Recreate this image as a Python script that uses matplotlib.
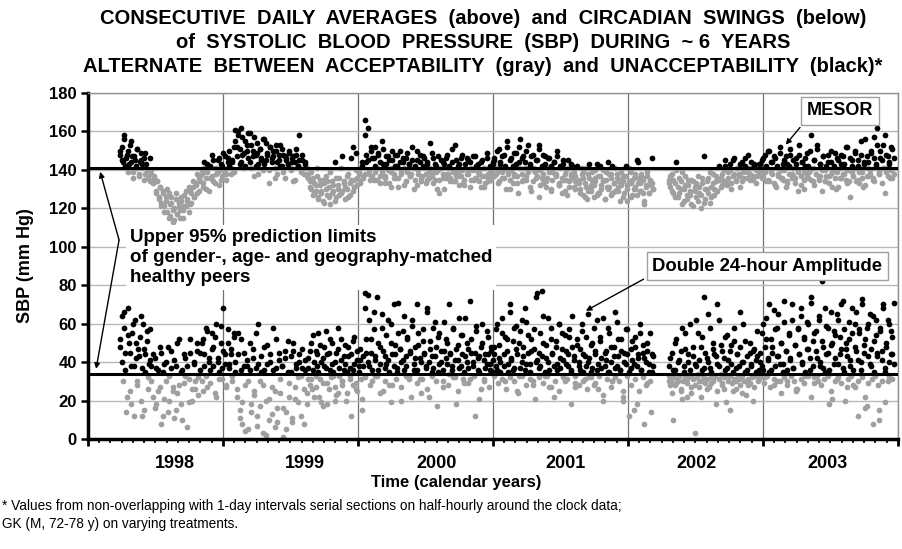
import numpy as np
import matplotlib
matplotlib.use("Agg")
from matplotlib import pyplot as plt

# observation blocks (decimal years); each block holds interleaved runs of daily values
blocks = [(1998.06, 1998.29), (1998.29, 1998.65), (1998.65, 1998.91),
          (1998.91, 1999.45), (1999.45, 1999.87), (1999.87, 2000.83),
          (2000.83, 2002.02), (2002.12, 2002.80), (2002.80, 2003.80)]

# MESOR (daily average SBP, mm Hg)
mesor_1 = [148, 152, 144, 158, 146, 141, 150, 143, 155, 147, 139, 145, 142, 151,
           137, 144, 149, 141, 146, 138, 143, 136, 140, 134]
mesor_1b = [150, 145, 156, 142, 148, 139, 153, 144, 136, 147, 141, 151, 138, 145,
            143, 135, 149, 140, 137, 146]
mesor_2 = [138, 133, 136, 129, 134, 126, 131, 123, 129, 121, 126, 118, 128, 116,
           123, 119, 114, 125, 117, 121, 115, 124, 119, 127, 121, 125, 118, 129,
           123, 131, 126, 133, 128, 136]
mesor_2b = [140, 133, 137, 128, 134, 125, 131, 121, 128, 118, 124, 130, 115, 122,
            126, 113, 120, 128, 117, 123, 119, 126, 115, 121, 129, 124, 131, 122,
            128, 134, 126, 132, 138, 129]
mesor_3 = [134, 138, 131, 141, 136, 143, 129, 142, 137, 145, 133, 141, 139, 146,
           135, 142, 140, 147, 138, 144, 150, 141, 145, 139]
mesor_3b = [137, 140, 133, 144, 130, 139, 142, 136, 148, 134, 141, 138, 145, 132,
            143, 137, 149, 140, 135, 146, 142, 138, 144, 152]
mesor_4 = [161, 152, 158, 143, 162, 148, 141, 155, 150, 159, 144, 153, 147, 157,
           142, 149, 138, 151, 145, 156, 143, 154, 148, 140, 152, 146, 150, 136,
           153, 144, 148, 142, 151, 139, 147, 145, 143, 150, 141, 146, 134, 144,
           148, 142, 158, 140, 145, 138, 143, 141]
mesor_4b = [155, 147, 160, 151, 144, 157, 149, 142, 153, 146, 159, 141, 150, 137,
            148, 154, 143, 151, 146, 140, 156, 145, 149, 133, 152, 144, 147, 141,
            150, 138, 145, 153, 142, 148, 136, 146, 143, 149, 140, 144, 147, 135,
            151, 142, 145, 139, 148, 141, 144, 137]
mesor_5 = [138, 134, 130, 136, 128, 132, 141, 126, 135, 129, 124, 133, 137, 127,
           131, 122, 134, 129, 144, 126, 132, 136, 128, 147, 133, 125, 130, 138,
           127, 135, 152, 131, 149, 136, 139, 133, 144, 137]
mesor_5b = [136, 131, 139, 127, 133, 129, 137, 125, 132, 128, 135, 123, 130, 134,
            126, 139, 128, 132, 124, 136, 130, 127, 141, 129, 134, 131, 137, 126,
            133, 146, 129, 135, 140, 132, 138, 134, 142, 136]
mesor_6 = [166, 144, 162, 138, 150, 146, 135, 152, 141, 148, 137, 155, 143, 133,
           147, 140, 145, 139, 150, 136, 142, 148, 131, 144, 138, 146, 141, 134,
           149, 143, 137, 145, 130, 142, 150, 138, 144, 136, 147, 141, 133, 143,
           139, 154, 137, 146, 135, 142, 140, 128, 145, 138, 143, 136, 148, 141,
           134, 144, 139, 153, 137, 142, 132, 146, 140, 135, 143, 138, 145, 131,
           141, 147, 136, 142, 139, 134, 144, 137, 141, 133, 146, 138, 140, 135,
           143]
mesor_6b = [158, 148, 145, 140, 152, 137, 146, 142, 135, 149, 144, 139, 151, 136,
            143, 147, 133, 141, 145, 138, 148, 142, 136, 150, 140, 144, 132, 146,
            139, 143, 137, 152, 141, 135, 145, 140, 148, 134, 142, 146, 138, 144,
            136, 141, 149, 133, 143, 139, 147, 135, 141, 144, 130, 146, 138, 142,
            136, 151, 140, 134, 145, 139, 143, 137, 148, 132, 141, 146, 138, 144,
            135, 140, 147, 136, 143, 139, 131, 145, 141, 137, 149, 134, 142, 138,
            144]
mesor_6c = [138, 135, 139, 133, 137, 131, 136, 139, 134, 138, 132, 137, 135, 139,
            130, 136, 138, 134, 137, 133, 139, 135, 138, 131, 136]
mesor_7 = [145, 138, 150, 134, 143, 147, 136, 141, 152, 139, 130, 146, 142, 137,
           149, 133, 144, 156, 138, 147, 141, 135, 153, 143, 129, 148, 140, 136,
           145, 151, 132, 142, 138, 147, 134, 141, 146, 130, 139, 144, 137, 150,
           133, 142, 128, 145, 138, 135, 141, 131, 143, 136, 139, 134, 142,
           133, 128, 141, 136, 126, 131, 138, 143, 129, 135, 132, 140, 127, 137,
           142, 130, 134, 125, 139, 144, 131, 136, 128, 133, 141, 138, 129, 135,
           132, 126, 137, 142, 130, 134, 139, 127, 136, 131, 145, 133, 129, 138,
           135, 124, 132, 137, 128, 134, 146, 130]
mesor_7b = [146, 141, 139, 151, 144, 136, 148, 142, 155, 138, 145, 140, 133, 149,
            143, 137, 152, 141, 146, 135, 144, 150, 139, 142, 147, 134, 141, 145,
            137, 153, 140, 136, 148, 143, 131, 146, 139, 142, 135, 144, 138, 147,
            132, 141, 136, 143, 129, 140, 145, 134, 138, 142, 131, 137, 133,
            135, 130, 138, 127, 133, 141, 129, 136, 131, 139, 126, 134, 143, 128,
            137, 132, 140, 125, 135, 130, 138, 127, 142, 133, 129, 136, 131, 124,
            139, 134, 128, 137, 132, 141, 126, 135, 130, 138, 127, 144, 133, 129,
            136, 122, 131, 140, 128, 135, 133, 130]
mesor_7c = [137, 133, 139, 130, 135, 138, 128, 134, 137, 131, 139, 126, 133, 136,
            129, 138, 132, 135, 127, 137, 130, 134, 139, 125, 132, 136, 128, 135,
            131, 138, 129, 134, 137, 124, 133, 130, 136, 128, 139, 132]
mesor_8 = [135, 131, 138, 128, 133, 144, 126, 136, 130, 139, 124, 132, 127, 135,
           129, 122, 134, 131, 126, 137, 128, 120, 133, 147, 125, 130, 136, 123,
           131, 138, 127, 134, 129, 142, 136, 132, 140, 145, 133, 139, 143, 130,
           137, 146, 134, 141, 138, 131, 144, 136, 142, 139, 148, 135, 141, 137,
           143, 133, 140, 138]
mesor_8b = [133, 137, 129, 135, 126, 140, 131, 128, 134, 122, 130, 137, 125, 132,
            127, 135, 121, 129, 133, 124, 131, 127, 136, 123, 130, 134, 128, 139,
            126, 133, 130, 137, 129, 135, 131, 138, 134, 142, 132, 136, 140, 133,
            145, 138, 135, 141, 137, 143, 134, 139, 146, 136, 141, 138, 144, 135,
            142, 140, 137, 143]
mesor_9 = [143, 136, 146, 139, 141, 150, 134, 144, 138, 147, 132, 142, 137, 152,
           140, 135, 145, 131, 143, 138, 148, 136, 141, 133, 146, 139, 153, 137,
           144, 130, 142, 149, 136, 140, 158, 134, 145, 138, 151, 135, 143, 129,
           147, 140, 137, 144, 133, 150, 139, 142, 136, 146, 131, 141, 148, 138,
           143, 135, 152, 140, 126, 145, 137, 149, 134, 142, 139, 155, 136, 144,
           132, 147, 141, 138, 150, 135, 157, 143, 162, 139, 146, 133, 153, 141,
           148, 137, 144, 140, 151, 138]
mesor_9b = [140, 145, 137, 148, 142, 135, 150, 139, 144, 133, 146, 141, 138, 149,
            136, 143, 140, 147, 134, 142, 151, 138, 145, 136, 143, 140, 148, 132,
            144, 139, 146, 137, 142, 150, 135, 141, 145, 138, 153, 136, 143, 140,
            147, 134, 142, 148, 137, 144, 131, 141, 149, 139, 145, 136, 143, 147,
            138, 152, 140, 134, 146, 142, 137, 150, 141, 145, 133, 148, 139, 143,
            156, 137, 144, 140, 149, 136, 146, 142, 153, 138, 150, 145, 141, 158,
            139, 147, 143, 152, 136, 146]
mesor_9c = [138, 134, 139, 131, 136, 133, 137, 129, 135, 139, 132, 137, 134, 138,
            130, 136, 133, 139, 135, 131, 137, 134, 138, 128, 136]

# double 24-hour amplitude (mm Hg)
amp_1 = [52, 64, 30, 58, 45, 14, 68, 50, 25, 38, 55, 12, 62, 42, 28, 47, 53, 20,
         37, 60, 15, 44, 51, 32, 39, 57]
amp_1b = [48, 40, 66, 36, 22, 54, 45, 18, 60, 38, 50, 30, 43, 64, 12, 47, 35, 56,
          26, 41]
amp_2 = [38, 22, 42, 18, 36, 27, 45, 12, 39, 30, 48, 20, 37, 25, 41, 15, 50, 28,
         35, 10, 44, 33, 38, 19, 52, 26, 40, 30, 46, 23]
amp_2b = [30, 44, 16, 37, 25, 48, 8, 35, 21, 40, 14, 33, 46, 27, 11, 38, 24, 52,
          18, 36, 29, 42, 6, 31, 45, 20, 39, 26, 50, 32]
amp_3 = [45, 30, 52, 38, 58, 27, 42, 36, 55, 48, 24, 60, 40, 31, 50, 37, 68, 44,
         28, 57, 39, 47, 33, 53]
amp_3b = [36, 50, 25, 44, 33, 56, 40, 29, 47, 38, 53, 22, 42, 35, 59, 31, 46, 39,
          27, 50, 37, 44, 30, 55]
amp_4 = [40, 22, 55, 15, 36, 8, 45, 28, 38, 5, 50, 18, 42, 25, 37, 12, 60, 30,
         35, 3, 48, 20, 39, 10, 44, 27, 36, 6, 52, 16, 41, 24, 38, 1, 46, 14, 35,
         29, 43, 9, 50, 21, 37, 32, 40, 12, 47, 26, 36, 18]
amp_4b = [35, 26, 44, 11, 52, 19, 38, 4, 41, 30, 36, 14, 47, 23, 55, 7, 39, 17,
          43, 28, 36, 2, 49, 21, 40, 13, 58, 25, 37, 9, 45, 31, 38, 16, 42, 5, 51,
          22, 35, 11, 46, 27, 39, 19, 44, 33, 37, 8, 41, 24]
amp_5 = [42, 28, 50, 36, 22, 46, 38, 55, 31, 40, 17, 48, 37, 44, 26, 52, 39, 35,
         20, 45, 58, 33, 41, 30, 36, 49, 24, 43, 37, 12, 51, 39, 29, 46, 35, 41,
         15, 38]
amp_5b = [37, 46, 31, 54, 40, 27, 44, 35, 49, 19, 42, 38, 56, 29, 45, 36, 50, 33,
          40, 23, 47, 37, 52, 28, 43, 39, 35, 48, 31, 44, 36, 53, 26, 41, 38, 47,
          21, 43]
amp_5c = [31, 26, 33, 22, 29, 18, 32, 27, 24, 30, 20, 33, 28, 25, 31]
amp_6 = [76, 45, 75, 38, 52, 30, 66, 41, 74, 36, 48, 58, 25, 43, 39, 62, 35, 50,
         28, 70, 44, 37, 55, 47, 20, 41, 64, 38, 53, 33, 46, 59, 36, 42, 70, 49,
         31, 40, 57, 45, 38, 68, 22, 51, 43, 37, 61, 48, 35, 55, 40, 27, 46, 52,
         39, 70, 44, 36, 58, 32, 47, 41, 63, 38, 54, 29, 43, 50, 37, 72, 45, 40,
         12, 56, 42, 35, 48, 60, 31, 44, 39, 53, 36, 46, 41]
amp_6b = [68, 52, 40, 62, 45, 36, 57, 43, 33, 50, 39, 65, 46, 37, 54, 41, 28, 60,
          44, 38, 49, 35, 71, 47, 40, 56, 36, 43, 52, 31, 45, 62, 39, 48, 36, 55,
          42, 24, 51, 44, 37, 66, 40, 47, 35, 58, 43, 30, 53, 39, 46, 36, 61, 42,
          50, 34, 45, 38, 57, 41, 18, 49, 37, 54, 44, 35, 63, 40, 47, 31, 52, 38,
          45, 59, 36, 43, 26, 50, 41, 37, 56, 44, 39, 48, 35]
amp_6c = [32, 28, 33, 24, 30, 19, 31, 27, 33, 22, 29, 31, 26, 33, 17, 30, 28, 32,
          25, 31, 29, 33, 21, 30, 27]
amp_7 = [48, 38, 60, 42, 35, 55, 44, 30, 52, 39, 66, 41, 36, 58, 47, 25, 50, 37,
         62, 43, 68, 39, 54, 35, 46, 28, 57, 40, 76, 45, 38, 77, 50, 33, 42, 63,
         36, 52, 44, 22, 48, 39, 60, 37, 55, 41, 30, 46, 38, 53, 35, 64, 43, 27,
         49, 40, 36, 56, 44, 31, 38, 65, 42, 35, 50, 28, 46, 62, 39, 53, 37, 20,
         45, 41, 58, 35, 48, 30, 43, 66, 38, 52, 36, 46, 25, 40, 57, 44, 12, 37,
         51, 39, 48, 18, 42, 55, 36, 45, 8, 40, 50, 35, 30, 44, 38]
amp_7b = [44, 57, 36, 49, 40, 63, 38, 53, 46, 35, 70, 42, 51, 37, 59, 44, 33, 56,
          40, 48, 36, 61, 45, 39, 52, 30, 47, 74, 41, 37, 55, 43, 64, 35, 49, 40,
          27, 58, 45, 38, 51, 36, 60, 42, 47, 33, 54, 39, 44, 57, 36, 48, 41, 29,
          52, 38, 47, 60, 35, 43, 53, 40, 32, 49, 37, 58, 44, 36, 26, 51, 42, 63,
          38, 46, 35, 55, 40, 30, 48, 37, 61, 43, 36, 52, 22, 45, 39, 57, 35, 47,
          41, 15, 53, 38, 44, 60, 36, 49, 42, 28, 46, 39, 55, 35, 43]
amp_7c = [33, 29, 31, 26, 32, 30, 24, 33, 28, 31, 21, 32, 29, 33, 27, 30, 25, 32,
          31, 18, 33, 28, 30, 26, 32, 29, 33, 23, 31, 27, 32, 30, 20, 33, 28, 31,
          25, 32, 29, 14]
amp_8 = [38, 28, 45, 10, 36, 52, 30, 41, 25, 58, 35, 47, 22, 40, 60, 33, 43, 3,
         38, 55, 27, 48, 36, 74, 31, 42, 65, 37, 29, 50, 44, 18, 39, 62, 34, 46,
         26, 53, 37, 41, 15, 49, 35, 58, 30, 44, 38, 66, 24, 40, 51, 36, 28, 45,
         39, 20, 47, 35, 43, 31]
amp_8b = [30, 42, 24, 36, 50, 29, 40, 33, 46, 21, 38, 55, 31, 44, 36, 27, 48, 39,
          62, 34, 41, 30, 53, 37, 45, 26, 40, 58, 35, 47, 32, 43, 70, 38, 49, 29,
          42, 36, 54, 33, 46, 39, 25, 51, 37, 44, 31, 48, 40, 60, 35, 43, 29, 50,
          38, 46, 33, 41, 56, 36]
amp_8c = [33, 30, 32, 28, 31, 33, 26, 30, 32, 29, 33, 24, 31, 28, 32, 30, 22, 33,
          29, 31, 27, 32, 30, 33, 25, 31, 28, 32, 19, 30, 33, 29, 31, 26, 32, 28,
          33, 30, 23, 31, 29, 32, 27, 33, 30]
amp_9 = [45, 38, 60, 32, 52, 41, 70, 36, 48, 28, 57, 43, 65, 39, 50, 35, 72, 46,
         30, 55, 42, 62, 37, 49, 25, 58, 44, 68, 40, 53, 33, 61, 47, 36, 71, 51,
         29, 56, 42, 64, 38, 82, 48, 35, 59, 45, 18, 66, 50, 39, 54, 31, 62, 44,
         70, 37, 57, 47, 27, 52, 41, 68, 36, 60, 46, 12, 55, 40, 73, 49, 22, 58,
         43, 65, 38, 8, 51, 62, 45, 15, 56, 41, 70, 35, 48, 30, 60, 44, 53, 39]
amp_9b = [40, 55, 36, 48, 63, 42, 35, 52, 45, 67, 38, 58, 43, 30, 50, 39, 61, 46,
          36, 54, 41, 70, 37, 49, 26, 57, 44, 64, 39, 52, 35, 47, 60, 42, 74, 38,
          55, 46, 33, 62, 40, 51, 37, 68, 44, 58, 36, 49, 21, 56, 42, 65, 39, 53,
          47, 72, 35, 50, 43, 61, 38, 55, 28, 48, 66, 41, 57, 36, 70, 45, 52, 17,
          60, 39, 47, 64, 35, 54, 43, 10, 58, 46, 68, 37, 50, 62, 40, 56, 44, 71]
amp_9c = [32, 29, 33, 27, 31, 30, 24, 32, 28, 33, 30, 26, 31, 29, 33, 22, 32, 30,
          28, 31, 33, 25, 30, 32, 29, 20, 31, 33, 27, 30, 32, 16, 29, 31, 33, 28,
          30, 19, 32, 31]

mesor = [(mesor_1, mesor_1b), (mesor_2, mesor_2b), (mesor_3, mesor_3b),
         (mesor_4, mesor_4b), (mesor_5, mesor_5b), (mesor_6, mesor_6b, mesor_6c),
         (mesor_7, mesor_7b, mesor_7c), (mesor_8, mesor_8b),
         (mesor_9, mesor_9b, mesor_9c)]
amp = [(amp_1, amp_1b), (amp_2, amp_2b), (amp_3, amp_3b), (amp_4, amp_4b),
       (amp_5, amp_5b, amp_5c), (amp_6, amp_6b, amp_6c), (amp_7, amp_7b, amp_7c),
       (amp_8, amp_8b, amp_8c), (amp_9, amp_9b, amp_9c)]

mesor_limit = 141   # upper 95% prediction limit, MESOR
amp_limit = 34      # upper 95% prediction limit, double amplitude

year_labels = ["1998", "1999", "2000", "2001", "2002", "2003"]
label_pos = [1998.46, 1999.43, 2000.40, 2001.36, 2002.33, 2003.30]
x0, x1 = 1997.82, 2003.82

plt.rcParams["font.family"] = ["Liberation Sans", "DejaVu Sans"]

fig = plt.figure(figsize=(9.03, 5.49), dpi=100)
ax = fig.add_axes([88 / 903, 1 - 439 / 549, 810 / 903, 346 / 549])

gray = "#a0a0a0"
for series, limit in [(mesor, mesor_limit), (amp, amp_limit)]:
    for (a, b), runs in zip(blocks, series):
        for vals in runs:
            x = np.linspace(a, b, len(vals), endpoint=False)
            y = np.array(vals)
            hi = y > limit
            ax.scatter(x[~hi], y[~hi], s=17, color=gray, lw=0, zorder=2)
            ax.scatter(x[hi], y[hi], s=17, color="black", lw=0, zorder=3)

ax.axhline(mesor_limit, color="black", lw=2.2, zorder=4)
ax.axhline(amp_limit, color="black", lw=2.2, zorder=4)

ax.set_xlim(x0, x1)
ax.set_ylim(0, 180)
ax.set_yticks(range(0, 181, 20))
ax.set_xticks(np.arange(x0, x1 + 0.01, 1.0))
ax.set_xticks(np.arange(x0, x1 + 0.01, 1 / 12), minor=True)
ax.set_xticklabels([])
ax.grid(axis="y", color="#b8b8b8", lw=1, zorder=0)
ax.grid(axis="x", which="major", color="#707070", lw=0.9, zorder=0)
ax.tick_params(axis="y", direction="out", length=5, width=1.8, labelsize=12, pad=3)
ax.tick_params(axis="x", which="major", direction="out", length=5, width=2)
ax.tick_params(axis="x", which="minor", direction="out", length=3, width=1.2)
for lab in ax.get_yticklabels():
    lab.set_fontweight("bold")
for s in ["left", "bottom"]:
    ax.spines[s].set_linewidth(2.5)
for s in ["top", "right"]:
    ax.spines[s].set_color("#909090")
    ax.spines[s].set_linewidth(1)

for p, t in zip(label_pos, year_labels):
    ax.text(p, -0.045, t, transform=ax.get_xaxis_transform(), ha="center", va="top",
            fontsize=13, fontweight="bold")

ax.set_ylabel("SBP (mm Hg)", fontsize=13, fontweight="bold", labelpad=11)
fig.text(456 / 903, 1 - 483 / 549, "Time (calendar years)", ha="center", va="center",
         fontsize=12, fontweight="bold")

titles = ["CONSECUTIVE  DAILY  AVERAGES  (above)  and  CIRCADIAN  SWINGS  (below)",
          "of  SYSTOLIC  BLOOD  PRESSURE  (SBP)  DURING  ~ 6  YEARS",
          "ALTERNATE  BETWEEN  ACCEPTABILITY  (gray)  and  UNACCEPTABILITY  (black)*"]
for i, t in enumerate(titles):
    fig.text(483 / 903, 1 - (18 + 24 * i) / 549, t, ha="center", va="center",
             fontsize=14.5, fontweight="bold")

fig.text(2 / 903, 1 - 506 / 549,
         "* Values from non-overlapping with 1-day intervals serial sections on half-hourly around the clock data;",
         ha="left", va="center", fontsize=9.8)
fig.text(2 / 903, 1 - 524 / 549, "GK (M, 72-78 y) on varying treatments.",
         ha="left", va="center", fontsize=9.8)

# annotations
box = dict(boxstyle="square,pad=0.3", fc="white", ec="#a0a0a0", lw=1)
ax.text(1998.13, 94.5, "Upper 95% prediction limits\nof gender-, age- and geography-matched\nhealthy peers",
        ha="left", va="center", fontsize=13.5, fontweight="bold", linespacing=1.25,
        bbox=dict(boxstyle="square,pad=0.2", fc="white", ec="none"), zorder=5)
arrow = dict(arrowstyle="-|>", color="black", lw=1, mutation_scale=8, shrinkA=0, shrinkB=0)
ax.annotate("", xy=(1997.91, 139), xytext=(1998.05, 103.5), arrowprops=arrow, zorder=6)
ax.annotate("", xy=(1997.88, 36.5), xytext=(1998.05, 103.5), arrowprops=arrow, zorder=6)

ax.annotate("MESOR", xy=(2002.975, 152), xytext=(2003.39, 170.7), ha="center", va="center",
            fontsize=13, fontweight="bold", bbox=box,
            arrowprops=dict(arrowstyle="-|>", color="black", lw=1, mutation_scale=8,
                            relpos=(0, 0)), zorder=6)
ax.annotate("Double 24-hour Amplitude", xy=(2001.49, 66), xytext=(2002.85, 90),
            ha="center", va="center", fontsize=13.3, fontweight="bold", bbox=box,
            arrowprops=dict(arrowstyle="-|>", color="black", lw=1, mutation_scale=8,
                            relpos=(0, 0)), zorder=6)

fig.savefig("out.png", dpi=100)
